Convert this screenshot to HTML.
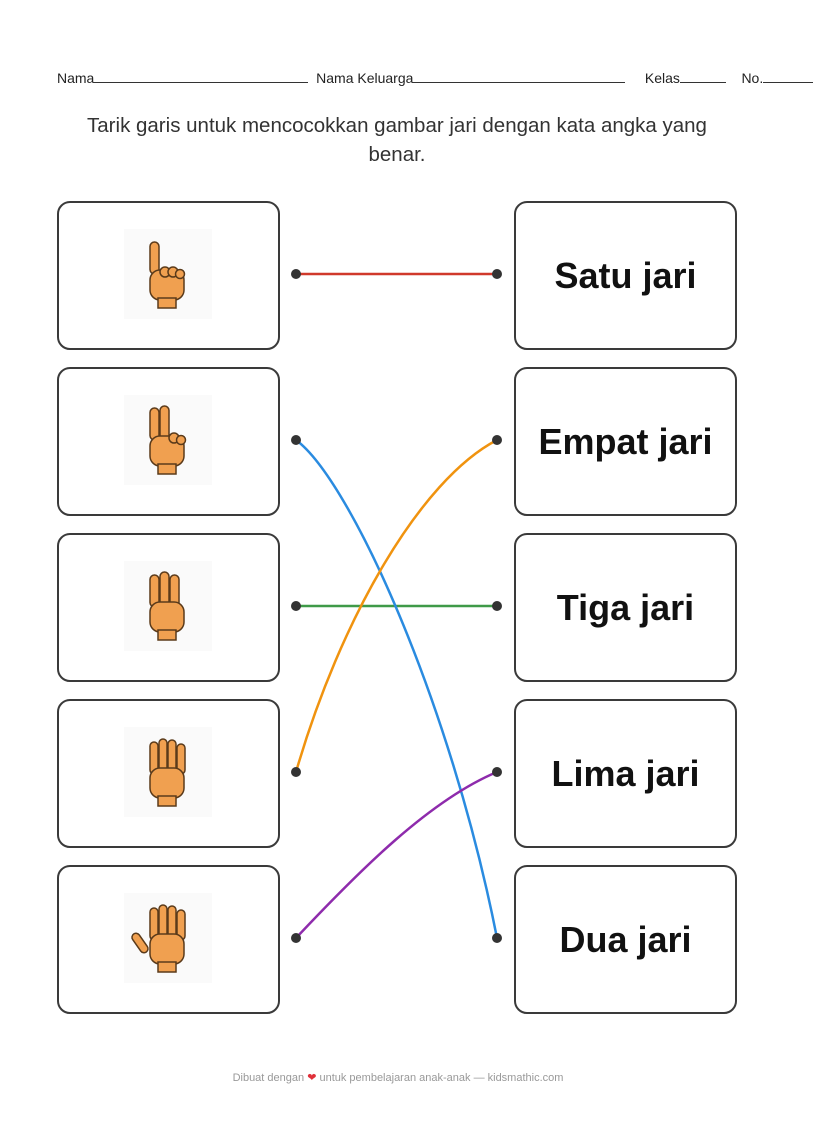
<!DOCTYPE html>
<html><head><meta charset="utf-8"><style>
body{margin:0;background:#fff;width:822px;height:1123px;position:relative;font-family:"Liberation Sans",sans-serif;color:#222;overflow:hidden}
.hdr{position:absolute;top:70px;left:57px;font-size:14px;white-space:nowrap}
.ln{display:inline-block;border-bottom:1px solid #333;height:12px;vertical-align:baseline}
.title{position:absolute;top:111px;left:72px;width:650px;text-align:center;font-size:20.5px;line-height:29px;color:#333}
.box{position:absolute;width:223px;height:149px;border:2px solid #3a3a3a;border-radius:13px;background:#fff;box-sizing:border-box}
.word{display:flex;align-items:center;justify-content:center;font-weight:bold;font-size:36px;color:#111}
.foot{position:absolute;top:1071px;left:0;width:796px;text-align:center;font-size:11px;color:#999}
</style></head><body>
<div class="hdr">Nama<span class="ln" style="width:214px"></span>&nbsp;&nbsp;Nama Keluarga<span class="ln" style="width:212px"></span>&nbsp;&nbsp;&nbsp;&nbsp;&nbsp;Kelas<span class="ln" style="width:46px"></span>&nbsp;&nbsp;&nbsp;&nbsp;No.<span class="ln" style="width:50px"></span></div>
<div class="title">Tarik garis untuk mencocokkan gambar jari dengan kata angka yang benar.</div>

<div class="box" style="left:57px;top:201px"></div>
<div class="box" style="left:57px;top:367px"></div>
<div class="box" style="left:57px;top:533px"></div>
<div class="box" style="left:57px;top:699px"></div>
<div class="box" style="left:57px;top:865px"></div>
<div class="box word" style="left:514px;top:201px">Satu jari</div>
<div class="box word" style="left:514px;top:367px">Empat jari</div>
<div class="box word" style="left:514px;top:533px">Tiga jari</div>
<div class="box word" style="left:514px;top:699px">Lima jari</div>
<div class="box word" style="left:514px;top:865px">Dua jari</div>

<svg width="822" height="1123" style="position:absolute;left:0;top:0" fill="none">
<defs>
<g id="palm"><rect x="-17" y="-6" width="34" height="30" rx="10" fill="#f0a050" stroke="#5a3a1a" stroke-width="1.5"/><rect x="-9" y="22" width="18" height="10" fill="#f0a050" stroke="#5a3a1a" stroke-width="1.5"/></g>
</defs>
<g fill="#fafafa"><rect x="124" y="229" width="88" height="90"/><rect x="124" y="395" width="88" height="90"/><rect x="124" y="561" width="88" height="90"/><rect x="124" y="727" width="88" height="90"/><rect x="124" y="893" width="88" height="90"/></g>
<g fill="#f0a050" stroke="#5a3a1a" stroke-width="1.5">
<rect x="150" y="242" width="9" height="32" rx="4.5"/><use href="#palm" x="167" y="276"/>
<circle cx="165" cy="272" r="5"/><circle cx="173" cy="272" r="5"/><circle cx="180" cy="274" r="4.5"/>
<rect x="150" y="408" width="9" height="32" rx="4.5"/><rect x="160" y="406" width="9" height="34" rx="4.5"/><use href="#palm" x="167" y="442"/>
<circle cx="174" cy="438" r="5"/><circle cx="181" cy="440" r="4.5"/>
<rect x="150" y="575" width="9" height="32" rx="4.5"/><rect x="160" y="572" width="9" height="35" rx="4.5"/><rect x="170" y="575" width="9" height="32" rx="4.5"/><use href="#palm" x="167" y="608"/>
<rect x="150" y="742" width="8" height="32" rx="4"/><rect x="159" y="739" width="8" height="35" rx="4"/><rect x="168" y="740" width="8" height="34" rx="4"/><rect x="177" y="744" width="8" height="30" rx="4"/><use href="#palm" x="167" y="774"/>
<rect x="150" y="908" width="8" height="32" rx="4"/><rect x="159" y="905" width="8" height="35" rx="4"/><rect x="168" y="906" width="8" height="34" rx="4"/><rect x="177" y="910" width="8" height="30" rx="4"/><rect x="136" y="932" width="8" height="22" rx="4" transform="rotate(-35 140 943)"/><use href="#palm" x="167" y="940"/>
</g>
<g stroke-width="2.5" stroke-linecap="round">
<path d="M296 274 L497 274" stroke="#d0392b"/>
<path d="M296 606 L497 606" stroke="#3f9a48"/>
<path d="M296 440 C350 480 450 700 497 938" stroke="#2a8be0"/>
<path d="M296 772 C340 620 420 480 497 440" stroke="#f0930f"/>
<path d="M296 938 C360 870 430 800 497 772" stroke="#8e2bac"/>
</g>
<g fill="#333"><circle cx="296" cy="274" r="5"/><circle cx="497" cy="274" r="5"/><circle cx="296" cy="440" r="5"/><circle cx="497" cy="440" r="5"/><circle cx="296" cy="606" r="5"/><circle cx="497" cy="606" r="5"/><circle cx="296" cy="772" r="5"/><circle cx="497" cy="772" r="5"/><circle cx="296" cy="938" r="5"/><circle cx="497" cy="938" r="5"/></g>
</svg>
<div class="foot">Dibuat dengan <span style="color:#e0303a">❤</span> untuk pembelajaran anak-anak — kidsmathic.com</div>
</body></html>
